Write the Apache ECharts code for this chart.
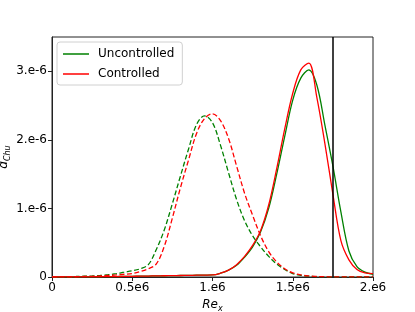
<!DOCTYPE html>
<html>
<head>
<meta charset="utf-8">
<script src="https://cdn.jsdelivr.net/npm/echarts@6/dist/echarts.min.js"></script>
<style>html,body{margin:0;padding:0;background:#fff}#c{width:415px;height:312px}</style>
</head>
<body>
<div id="c"></div>
<script>
// Re_x in units of 1e6
var reX = [0,0.05,0.1,0.15,0.2,0.25,0.3,0.35,0.4,0.45,0.5,0.55,0.6,0.65,0.7,0.75,0.8,0.85,0.9,0.95,1.0,1.05,1.1,1.15,1.2,1.25,1.3,1.35,1.4,1.45,1.5,1.55,1.6,1.65,1.7,1.75,1.8,1.85,1.9,1.95,2.0];
// d_Chu in units of 1e-6
var uncontrolledSolid = [0,0.0005,0.001,0.0015,0.002,0.003,0.004,0.005,0.006,0.008,0.01,0.012,0.014,0.016,0.018,0.02,0.022,0.024,0.026,0.028,0.03,0.055,0.1,0.17,0.29,0.44,0.66,1.0,1.5,2.05,2.58,2.9,3.02,2.8,2.22,1.62,0.95,0.38,0.15,0.07,0.04];
var controlledSolid   = [0,0.0005,0.001,0.0015,0.002,0.003,0.004,0.005,0.006,0.008,0.01,0.012,0.014,0.016,0.018,0.02,0.022,0.024,0.026,0.028,0.03,0.055,0.1,0.18,0.3,0.46,0.68,1.05,1.58,2.16,2.68,3.02,3.12,2.62,1.95,1.21,0.53,0.25,0.11,0.06,0.05];
var uncontrolledDashed = [0,0.002,0.004,0.007,0.011,0.016,0.023,0.033,0.048,0.07,0.09,0.12,0.18,0.4,0.69,1.07,1.47,1.86,2.22,2.35,2.25,1.92,1.52,1.13,0.82,0.6,0.44,0.3,0.19,0.11,0.05,0.025,0.012,0.006,0.003,0.002,0.001,0.001,0.001,0.001,0.001];
var controlledDashed   = [0,0.001,0.002,0.004,0.007,0.01,0.015,0.022,0.03,0.04,0.05,0.08,0.12,0.19,0.45,0.86,1.3,1.7,2.09,2.31,2.38,2.28,2.02,1.62,1.22,0.9,0.6,0.37,0.22,0.12,0.06,0.03,0.015,0.007,0.004,0.002,0.001,0.001,0.001,0.001,0.001];
var markerRe = 1.75;
var xTickLabels = {'0':'0','0.5':'0.5e6','1':'1.e6','1.5':'1.5e6','2':'2.e6'};
var yTickLabels = {'0':'0','1':'1.e-6','2':'2.e-6','3':'3.e-6'};

function pairs(ys){ return reX.map(function(x,i){ return [x, ys[i]]; }); }

var GREEN = '#008000', RED = '#ff0000';
var FONT = 'DejaVu Sans';
var chart = echarts.init(document.getElementById('c'), null, {renderer:'canvas'});
chart.setOption({
  animation: false,
  backgroundColor: '#fff',
  grid: {left: 52, right: 42, top: 37, bottom: 35, containLabel: false, outerBoundsMode: 'none', show: true, borderColor: '#222', borderWidth: 1},
  legend: {
    data: ['Uncontrolled','Controlled'],
    orient: 'vertical', left: 57, top: 42,
    icon: 'rect', itemWidth: 26, itemHeight: 1.5, itemGap: 8,
    padding: [6, 8, 5, 6],
    backgroundColor: '#fff', borderColor: '#d0d0d0', borderWidth: 1, borderRadius: 3,
    textStyle: {fontFamily: FONT, fontSize: 12, color: '#000', padding: [0,0,0,4]}
  },
  xAxis: {
    type: 'value', min: 0, max: 2, interval: 0.5,
    name: '{i|Re}{s|x}', nameLocation: 'middle', nameGap: 20, nameMoveOverlap: false,
    nameTextStyle: {rich: {i: {fontFamily: FONT, fontStyle: 'italic', fontSize: 12, color: '#000'}, s: {fontFamily: FONT, fontStyle: 'italic', fontSize: 8, color: '#000', padding: [8,0,0,0]}}},
    axisLine: {show: true, lineStyle: {color: '#222', width: 1}},
    axisTick: {show: true, inside: false, length: 4, lineStyle: {color: '#222'}},
    axisLabel: {fontFamily: FONT, fontSize: 12, color: '#000', margin: 5, formatter: function(v){ return xTickLabels[String(v)] || ''; }},
    splitLine: {show: false}
  },
  yAxis: {
    type: 'value', min: 0, max: 3.5, interval: 1,
    name: '{i|d}{s|Chu}', nameLocation: 'middle', nameGap: 40, nameRotate: 90, nameMoveOverlap: false,
    nameTextStyle: {rich: {i: {fontFamily: FONT, fontStyle: 'italic', fontSize: 12, color: '#000'}, s: {fontFamily: FONT, fontStyle: 'italic', fontSize: 8, color: '#000', padding: [8,0,0,0]}}},
    axisLine: {show: true, lineStyle: {color: '#222', width: 1}},
    axisTick: {show: true, inside: false, length: 4, lineStyle: {color: '#222'}},
    axisLabel: {fontFamily: FONT, fontSize: 12, color: '#000', margin: 5, showMaxLabel: false, formatter: function(v){ return yTickLabels[String(v)] || ''; }},
    splitLine: {show: false}
  },
  series: [
    {name: 'Uncontrolled', type: 'line', data: pairs(uncontrolledSolid), smooth: 0.35, symbol: 'none', color: GREEN, lineStyle: {color: GREEN, width: 1.3}, z: 3},
    {name: 'Controlled', type: 'line', data: pairs(controlledSolid), smooth: 0.35, symbol: 'none', color: RED, lineStyle: {color: RED, width: 1.3}, z: 4,
      markLine: {silent: true, symbol: 'none', label: {show: false}, lineStyle: {color: '#000', width: 1.5, type: 'solid'}, data: [{xAxis: markerRe}]}},
    {name: 'Uncontrolled laminar', type: 'line', data: pairs(uncontrolledDashed), smooth: 0.35, symbol: 'none', color: GREEN, lineStyle: {color: GREEN, width: 1.3, type: [5, 2.5]}, z: 3},
    {name: 'Controlled laminar', type: 'line', data: pairs(controlledDashed), smooth: 0.35, symbol: 'none', color: RED, lineStyle: {color: RED, width: 1.3, type: [5, 2.5]}, z: 4}
  ]
});
</script>
</body>
</html>
